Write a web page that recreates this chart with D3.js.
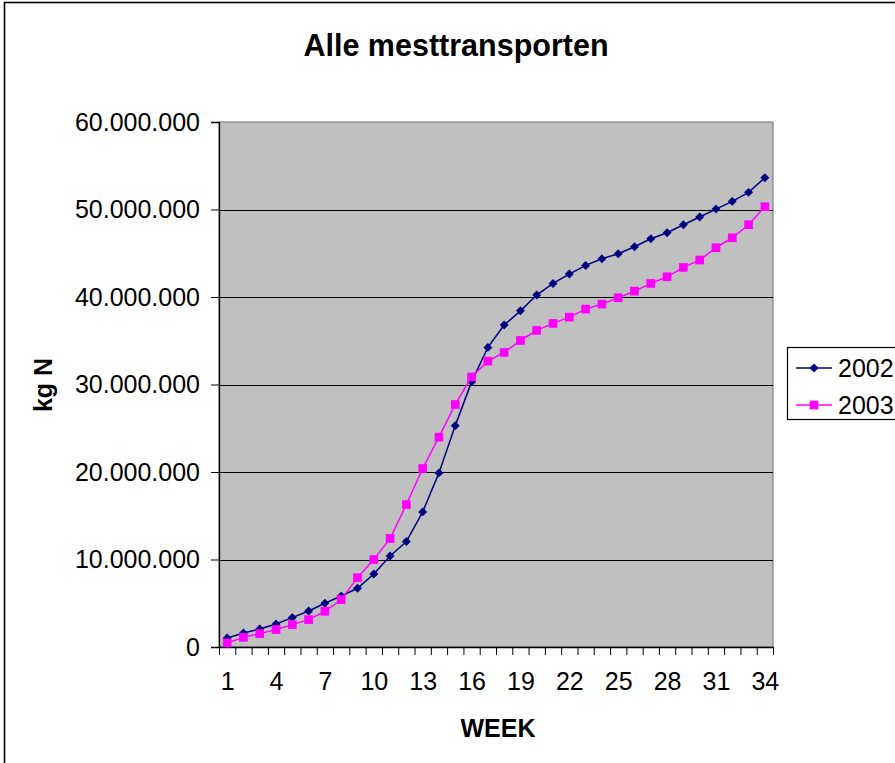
<!DOCTYPE html>
<html>
<head>
<meta charset="utf-8">
<script src="https://cdn.jsdelivr.net/npm/d3@7/dist/d3.min.js"></script>
<style>
  html, body { margin: 0; padding: 0; background: #fff; }
  svg { display: block; font-family: "Liberation Sans", Arial, sans-serif; }
</style>
</head>
<body>
<svg id="chart" width="895" height="763"></svg>
<script>
// Cumulative manure transports (kg N) per week
const weeks = d3.range(1, 35);
const series2002 = [
  1.03e6, 1.6e6, 2.06e6, 2.63e6, 3.36e6, 4.12e6, 5.0e6, 5.83e6, 6.71e6, 8.35e6,
  10.4e6, 12.05e6, 15.44e6, 19.9e6, 25.3e6, 30.3e6, 34.24e6, 36.79e6, 38.42e6, 40.22e6,
  41.55e6, 42.62e6, 43.61e6, 44.37e6, 44.94e6, 45.74e6, 46.66e6, 47.34e6, 48.26e6, 49.14e6,
  50.05e6, 50.93e6, 51.96e6, 53.63e6
];
const series2003 = [
  0.46e6, 1.1e6, 1.53e6, 1.99e6, 2.56e6, 3.13e6, 4.08e6, 5.42e6, 7.93e6, 9.99e6,
  12.4e6, 16.28e6, 20.4e6, 23.98e6, 27.72e6, 30.87e6, 32.67e6, 33.66e6, 35.03e6, 36.18e6,
  36.98e6, 37.7e6, 38.62e6, 39.19e6, 39.91e6, 40.67e6, 41.55e6, 42.31e6, 43.38e6, 44.22e6,
  45.63e6, 46.77e6, 48.26e6, 50.32e6
];
const seriesNames = ["2002", "2003"];
const yTicks = [0, 10e6, 20e6, 30e6, 40e6, 50e6, 60e6];
const xLabelWeeks = [1, 4, 7, 10, 13, 16, 19, 22, 25, 28, 31, 34];

const titleText = "Alle mesttransporten";
const xTitle = "WEEK";
const yTitle = "kg N";

const colors = ["#000080", "#FF00FF"];

const svg = d3.select("#chart");
const plot = { left: 219, right: 773, top: 122, bottom: 647 };

const nl = d3.formatLocale({ decimal: ",", thousands: ".", grouping: [3], currency: ["€", ""] });
const fmt = nl.format(",");

const x = d3.scaleLinear().domain([0.5, 34.5]).range([plot.left, plot.right]);
const y = d3.scaleLinear().domain([0, 60e6]).range([plot.bottom, plot.top]);

// marker shapes: a square diamond (square turned 45°) and a plain square
const markerPath = d3.symbol().type(d3.symbolSquare);
const markers = [
  { d: markerPath.size(40)(), rotate: 45 },
  { d: d3.symbol().type(d3.symbolSquare).size(75)(), rotate: 0 }
];

// outer chart frame
svg.append("rect")
  .attr("x", 4.5).attr("y", 2.5).attr("width", 1000).attr("height", 1000)
  .attr("fill", "#fff").attr("stroke", "#000").attr("stroke-width", 1.6);

// plot area
svg.append("rect")
  .attr("x", plot.left).attr("y", plot.top)
  .attr("width", plot.right - plot.left).attr("height", plot.bottom - plot.top)
  .attr("fill", "#C0C0C0").attr("stroke", "#808080").attr("stroke-width", 1.2);

// horizontal gridlines
svg.append("g")
  .selectAll("line")
  .data(yTicks.filter(v => v > 0 && v < 60e6))
  .join("line")
  .attr("x1", plot.left).attr("x2", plot.right)
  .attr("y1", d => Math.round(y(d)) + 0.5).attr("y2", d => Math.round(y(d)) + 0.5)
  .attr("stroke", "#000").attr("stroke-width", 1);

// y axis
const yAxis = svg.append("g")
  .attr("transform", `translate(${plot.left},0)`)
  .call(d3.axisLeft(y).tickValues(yTicks).tickFormat(fmt).tickSize(8).tickPadding(11));
yAxis.select(".domain").attr("stroke", "#000").attr("stroke-width", 1.3);
yAxis.selectAll(".tick line").attr("stroke", "#000");
yAxis.selectAll("text")
  .attr("font-size", 25).attr("fill", "#000")
  .attr("font-family", "'Liberation Sans', Arial, sans-serif");

// x axis: tick marks between categories
const xTickAxis = svg.append("g")
  .attr("transform", `translate(0,${plot.bottom})`)
  .call(d3.axisBottom(x).tickValues(d3.range(0.5, 35, 1)).tickFormat("").tickSize(8).tickSizeOuter(0));
xTickAxis.select(".domain").attr("stroke", "#000").attr("stroke-width", 1.3);
xTickAxis.selectAll(".tick line").attr("stroke", "#000");

// x axis: week labels
const xLabelAxis = svg.append("g")
  .attr("transform", `translate(0,${plot.bottom})`)
  .call(d3.axisBottom(x).tickValues(xLabelWeeks).tickFormat(d3.format("d")).tickSize(0).tickPadding(25));
xLabelAxis.select(".domain").remove();
xLabelAxis.selectAll("text")
  .attr("font-size", 25).attr("fill", "#000")
  .attr("font-family", "'Liberation Sans', Arial, sans-serif");

// series lines and markers
const data = [series2002, series2003];
const line = d3.line().x((d, i) => x(weeks[i])).y(d => y(d));

data.forEach((vals, s) => {
  svg.append("path")
    .datum(vals)
    .attr("d", line)
    .attr("fill", "none")
    .attr("stroke", colors[s])
    .attr("stroke-width", 1.5);
  svg.append("g")
    .selectAll("path")
    .data(vals)
    .join("path")
    .attr("transform", (d, i) => `translate(${x(weeks[i])},${y(d)}) rotate(${markers[s].rotate})`)
    .attr("d", markers[s].d)
    .attr("fill", colors[s]);
});

// title
svg.append("text")
  .attr("x", 456).attr("y", 56)
  .attr("text-anchor", "middle")
  .attr("font-size", 30.5).attr("font-weight", "bold")
  .text(titleText);

// axis titles
svg.append("text")
  .attr("x", 498).attr("y", 737)
  .attr("text-anchor", "middle")
  .attr("font-size", 25).attr("font-weight", "bold")
  .text(xTitle);

svg.append("text")
  .attr("transform", "translate(52,385) rotate(-90)")
  .attr("text-anchor", "middle")
  .attr("font-size", 25).attr("font-weight", "bold")
  .text(yTitle);

// legend
const legend = svg.append("g");
legend.append("rect")
  .attr("x", 787.5).attr("y", 347.5).attr("width", 200).attr("height", 72)
  .attr("fill", "#fff").attr("stroke", "#000").attr("stroke-width", 1.2);

seriesNames.forEach((name, s) => {
  const ly = 368 + s * 37;
  legend.append("line")
    .attr("x1", 796).attr("x2", 832).attr("y1", ly).attr("y2", ly)
    .attr("stroke", colors[s]).attr("stroke-width", 1.5);
  legend.append("path")
    .attr("transform", `translate(814,${ly}) rotate(${markers[s].rotate})`)
    .attr("d", markers[s].d)
    .attr("fill", colors[s]);
  legend.append("text")
    .attr("x", 838).attr("y", ly + 9)
    .attr("font-size", 25)
    .text(name);
});
</script>
</body>
</html>
